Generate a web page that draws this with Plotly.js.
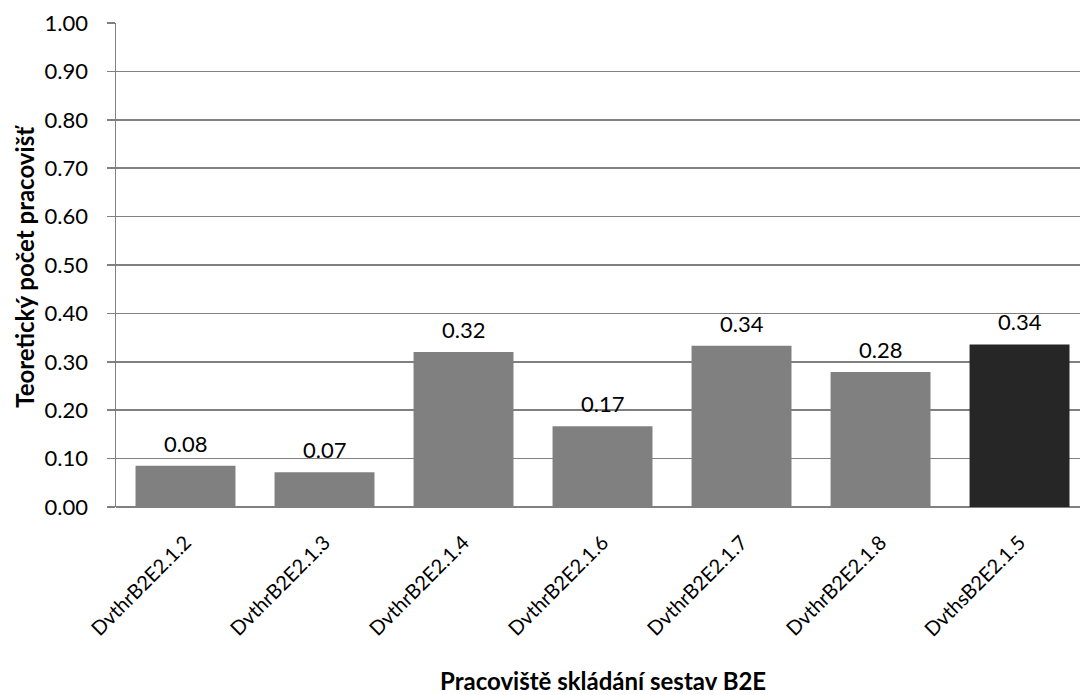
<!DOCTYPE html>
<html>
<head>
<meta charset="utf-8">
<script src="https://cdn.plot.ly/plotly-3.0.1.min.js"></script>
<style>html,body{margin:0;padding:0;background:#fff;}#chart{width:1080px;height:695px;}</style>
</head>
<body>
<div id="chart"></div>
<script>
var categories = ["DvthrB2E2.1.2", "DvthrB2E2.1.3", "DvthrB2E2.1.4", "DvthrB2E2.1.6", "DvthrB2E2.1.7", "DvthrB2E2.1.8", "DvthsB2E2.1.5"];
var values = [0.085, 0.072, 0.320, 0.167, 0.333, 0.279, 0.336];
var valueLabels = ["0.08", "0.07", "0.32", "0.17", "0.34", "0.28", "0.34"];
var barColors = ["#808080", "#808080", "#808080", "#808080", "#808080", "#808080", "#262626"];
var yTickVals = [0, 0.1, 0.2, 0.3, 0.4, 0.5, 0.6, 0.7, 0.8, 0.9, 1.0];
var yTickText = ["0.00", "0.10", "0.20", "0.30", "0.40", "0.50", "0.60", "0.70", "0.80", "0.90", "1.00"];
var xTitle = "Pracoviště skládání sestav B2E";
var yTitle = "Teoretický počet pracovišť";

var fontFam = "Lato, 'Open Sans', sans-serif";

var annotations = categories.map(function (c, i) {
  return {
    x: c, y: values[i], xref: "x", yref: "y",
    text: valueLabels[i], showarrow: false,
    yanchor: "bottom", yshift: 7,
    font: {family: fontFam, size: 22, color: "#000"}
  };
});
annotations.push({
  xref: "paper", yref: "paper", x: 0.505, y: -0.358, xanchor: "center", yanchor: "middle",
  text: "<b>" + xTitle + "</b>", showarrow: false,
  font: {family: fontFam, size: 24, color: "#000"}
});
annotations.push({
  xref: "paper", yref: "paper", x: -0.095, y: 0.497, xanchor: "center", yanchor: "middle",
  text: "<b>" + yTitle + "</b>", showarrow: false, textangle: -90,
  font: {family: fontFam, size: 24, color: "#000"}
});

var trace = {
  type: "bar",
  x: categories,
  y: values,
  marker: {color: barColors, line: {width: 0}},
  hoverinfo: "x+y"
};

var layout = {
  width: 1080, height: 695,
  margin: {l: 116, r: 0, t: 23, b: 188, pad: 0},
  paper_bgcolor: "#fff", plot_bgcolor: "#fff",
  showlegend: false,
  bargap: 0.281,
  xaxis: {
    type: "category",
    range: [-0.5, 6.435],
    tickangle: -45,
    ticks: "",
    ticklabelstandoff: 19,
    showgrid: false,
    showline: false,
    zeroline: false,
    tickfont: {family: fontFam, size: 20, color: "#000"},
    automargin: false
  },
  yaxis: {
    range: [0, 1.0],
    tickvals: yTickVals,
    ticktext: yTickText,
    ticks: "outside",
    ticklen: 8,
    tickwidth: 1.5,
    tickcolor: "#808080",
    ticklabelstandoff: 14,
    showline: true,
    linecolor: "#808080",
    linewidth: 1.5,
    showgrid: true,
    gridcolor: "#808080",
    gridwidth: 1.5,
    zeroline: true,
    zerolinecolor: "#808080",
    zerolinewidth: 1.5,
    tickfont: {family: fontFam, size: 22, color: "#000"},
    automargin: false
  },
  annotations: annotations
};

Plotly.newPlot("chart", [trace], layout, {displayModeBar: false, staticPlot: true});
</script>
</body>
</html>
